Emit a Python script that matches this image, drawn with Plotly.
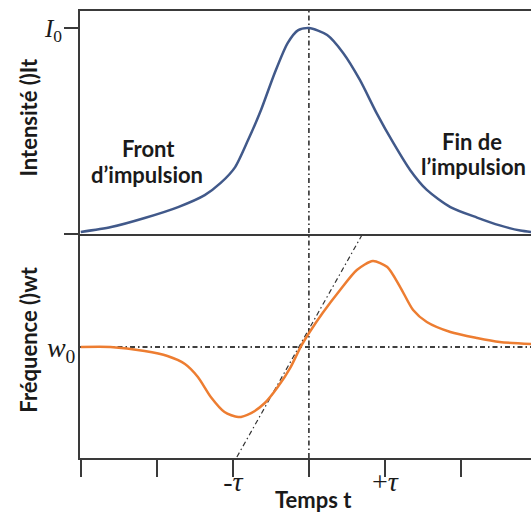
import plotly.graph_objects as go

# Time axis (units of tau)
t_int = [-3.0, -2.6, -2.16, -1.72, -1.37, -1.16, -0.97, -0.80, -0.63, -0.45, -0.28, -0.14, 0.0,
         0.24, 0.45, 0.67, 0.89, 1.11, 1.33, 1.55, 1.86, 2.21, 2.51, 2.78, 2.92]
intensity = [0.01, 0.034, 0.078, 0.131, 0.189, 0.248, 0.325, 0.456, 0.602, 0.782, 0.927, 0.99, 1.0,
             0.966, 0.879, 0.748, 0.587, 0.442, 0.311, 0.214, 0.131, 0.080, 0.042, 0.017, 0.01]

t_freq = [-3.0, -2.61, -2.16, -1.86, -1.63, -1.46, -1.29, -1.11, -0.93, -0.76, -0.58, -0.41, -0.24,
          -0.11, 0.01, 0.18, 0.41, 0.63, 0.84, 1.03, 1.20, 1.37, 1.55, 1.86, 2.21, 2.51, 2.92]
frequency = [0.0, 0.0, -0.04, -0.09, -0.17, -0.30, -0.50, -0.65, -0.70, -0.66, -0.56, -0.40, -0.20,
             0.0, 0.15, 0.34, 0.57, 0.77, 0.86, 0.80, 0.60, 0.37, 0.25, 0.15, 0.09, 0.05, 0.03]

tangent_t = [-0.947, 0.697]
tangent_w = [-1.10, 1.12]

x_tickvals = [-3, -2, -1, 0, 1, 2]
x_ticktext = ["", "", "-<i>τ</i>", "", "+<i>τ</i>", ""]

AXC = "#3a3a3a"
DASH = "5px,3px,1.5px,3px"
BOLD = dict(family="Lato", size=22, color="#1a1a1a", weight="bold")
SERIF = dict(family="Liberation Serif", size=25, color="#1a1a1a")

fig = go.Figure()

fig.add_trace(go.Scatter(x=t_int, y=intensity, mode="lines", xaxis="x2", yaxis="y2",
                         line=dict(color="#41598a", width=2.5, shape="spline", smoothing=0.7),
                         hoverinfo="skip", showlegend=False))
fig.add_trace(go.Scatter(x=[-3.01, 2.92], y=[0, 0], mode="lines", xaxis="x", yaxis="y",
                         line=dict(color="black", width=1.3, dash=DASH),
                         hoverinfo="skip", showlegend=False))
fig.add_trace(go.Scatter(x=tangent_t, y=tangent_w, mode="lines", xaxis="x", yaxis="y",
                         line=dict(color="#333", width=1.2, dash=DASH),
                         hoverinfo="skip", showlegend=False))
fig.add_trace(go.Scatter(x=t_freq, y=frequency, mode="lines", xaxis="x", yaxis="y",
                         line=dict(color="#ed7d31", width=2.5, shape="spline", smoothing=0.7),
                         hoverinfo="skip", showlegend=False))

# vertical dash-dot at t = 0 across both panels
fig.add_shape(type="line", xref="x", yref="paper", x0=0, x1=0, y0=0, y1=1,
              line=dict(color="black", width=1.3, dash=DASH), layer="below")

fig.update_layout(
    width=531, height=513,
    margin=dict(l=80, r=0, t=11, b=55, autoexpand=False),
    plot_bgcolor="white", paper_bgcolor="white",
    xaxis=dict(domain=[0, 1], anchor="y", range=[-3.01, 2.92], showgrid=False, zeroline=False,
               showline=True, linecolor=AXC, linewidth=2, automargin=False,
               ticks="outside", ticklen=17, tickwidth=1.5, tickcolor=AXC,
               tickvals=x_tickvals, ticktext=x_ticktext,
               tickfont=dict(family="Liberation Serif", size=28, color="#1a1a1a"),
               ticklabelstandoff=-20),
    yaxis=dict(domain=[0, 0.501], anchor="x", range=[-1.11, 1.13], showgrid=False, zeroline=False,
               showline=True, linecolor=AXC, linewidth=2, automargin=False,
               ticks="outside", ticklen=2, tickcolor="rgba(0,0,0,0)",
               tickvals=[0], ticktext=["<i>w</i><sub>0</sub>"],
               tickfont=dict(family="Liberation Serif", size=28, color="#1a1a1a"),
               ticklabelstandoff=-5),
    xaxis2=dict(domain=[0, 1], anchor="y2", matches="x", range=[-3.01, 2.92], showgrid=False,
                zeroline=False, showline=True, mirror=True, linecolor=AXC, linewidth=2,
                showticklabels=False, ticks="", automargin=False),
    yaxis2=dict(domain=[0.501, 1], anchor="x2", range=[0, 1.0825], showgrid=False, zeroline=False,
                showline=True, linecolor=AXC, linewidth=2, automargin=False,
                ticks="outside", ticklen=14, tickwidth=1.5, tickcolor=AXC,
                tickvals=[0, 1], ticktext=["", "<i>I</i><sub>0</sub>"], tickfont=SERIF,
                ticklabelstandoff=-3),
    annotations=[
        dict(text="Intensité ()It", xref="paper", yref="paper", x=-0.115, y=0.762,
             textangle=-90, showarrow=False, font=BOLD, xanchor="center", yanchor="middle"),
        dict(text="Fréquence ()wt", xref="paper", yref="paper", x=-0.115, y=0.265,
             textangle=-90, showarrow=False, font=BOLD, xanchor="center", yanchor="middle"),
        dict(text="Temps t", xref="paper", yref="paper", x=0.517, y=-0.092,
             showarrow=False, font=BOLD, xanchor="center", yanchor="middle"),
        dict(text="Front", xref="x2", yref="y2", x=-2.11, y=0.413,
             showarrow=False, font=BOLD, xanchor="center", yanchor="middle"),
        dict(text="d’impulsion", xref="x2", yref="y2", x=-2.125, y=0.291,
             showarrow=False, font=BOLD, xanchor="center", yanchor="middle"),
        dict(text="Fin de", xref="x2", yref="y2", x=2.15, y=0.447,
             showarrow=False, font=BOLD, xanchor="center", yanchor="middle"),
        dict(text="l’impulsion", xref="x2", yref="y2", x=2.17, y=0.33,
             showarrow=False, font=BOLD, xanchor="center", yanchor="middle"),
    ],
)

fig.write_html("out.html", config={"displayModeBar": False},
               post_script="document.body.style.margin='0px';")
